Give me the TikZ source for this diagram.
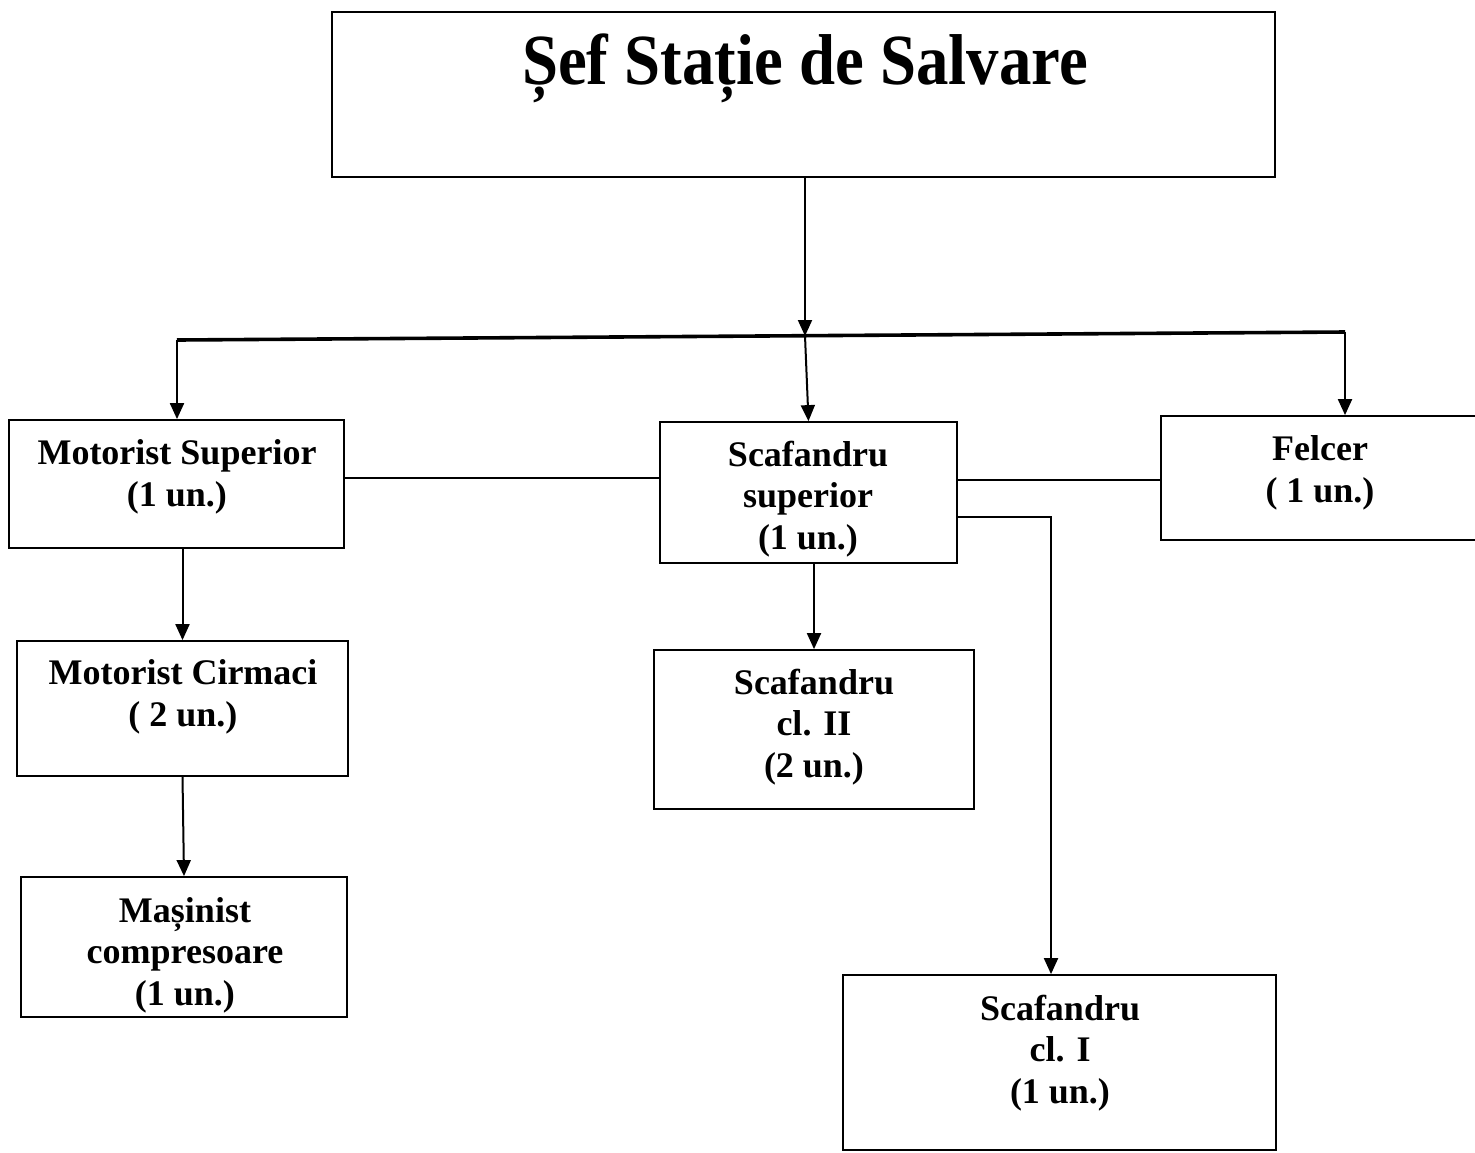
\documentclass[tikz,border=0pt]{standalone}
\usepackage{fontspec}
\setmainfont{Liberation Serif}
\newfontfamily\titlefont[FakeStretch=0.9]{Liberation Serif}
\usetikzlibrary{arrows.meta,fit}
\begin{document}
\begin{tikzpicture}[x=0.5pt,y=-0.5pt,
  box/.style={draw=black,line width=0.9pt,inner sep=0pt,fit={#1}},
  lbl/.style={align=center,inner sep=0pt,font=\bfseries\fontsize{18}{20.75}\selectfont},
  ttl/.style={inner sep=0pt,font=\titlefont\bfseries\fontsize{36}{40}\selectfont},
  conn/.style={draw=black,line width=1pt},
  arr/.style={conn,-{Triangle[width=7pt,length=8pt]}},
  busline/.style={draw=black,line width=1.8pt}]
\useasboundingbox (0,0) rectangle (1475,1152);
% boxes
\node[box={(332,12) (1275,177)}] (top) {};
\node[box={(9,420) (344,548)}] (msup) {};
\node[box={(660,422) (957,563)}] (ssup) {};
\node[box={(1161,416) (1490,540)}] (felcer) {};
\node[box={(17,641) (348,776)}] (mcir) {};
\node[box={(654,650) (974,809)}] (scl2) {};
\node[box={(21,877) (347,1017)}] (mas) {};
\node[box={(843,975) (1276,1150)}] (scl1) {};
% texts
\node[ttl] (ttop) at (805,68) {Șef Stație de Salvare};
\node[lbl] (tmsup) at (177,477) {Motorist Superior\\(1 un.)};
\node[lbl] (tssup) at (808,499) {Scafandru\\superior\\(1 un.)};
\node[lbl] (tfelcer) at (1320,473) {Felcer\\( 1 un.)};
\node[lbl] (tmcir) at (183,697) {Motorist Cirmaci\\( 2 un.)};
\node[lbl] (tscl2) at (814,727) {Scafandru\\cl. II\\(2 un.)};
\node[lbl] (tmas) at (185,955) {Mașinist\\compresoare\\(1 un.)};
\node[lbl] (tscl1) at (1060,1053) {Scafandru\\cl. I\\(1 un.)};
% bus
\coordinate (busL) at (177,340);
\coordinate (busR) at (1345,332);
\coordinate (busM) at (805,336);
\coordinate (hlA) at (0,478);
\coordinate (hlB) at (0,480);
\coordinate (elb) at (1051,517);
\draw[busline] (busL) -- (busR);
\draw[arr] (top.south -| busM) -- (busM);
\draw[arr] (busL) -- (busL |- msup.north);
\draw[arr] (busM) -- (ssup.north);
\draw[arr] (busR) -- (busR |- felcer.north);
% lateral lines
\draw[conn] (msup.east |- hlA) -- (ssup.west |- hlA);
\draw[conn] (ssup.east |- hlB) -- (felcer.west |- hlB);
\draw[arr] (ssup.east |- elb) -- (elb) -- (elb |- scl1.north);
% verticals
\draw[arr] (mcir.north |- msup.south) -- (mcir.north);
\draw[arr] (mcir.south) -- (mas.north);
\draw[arr] (scl2.north |- ssup.south) -- (scl2.north);
\end{tikzpicture}
\end{document}
